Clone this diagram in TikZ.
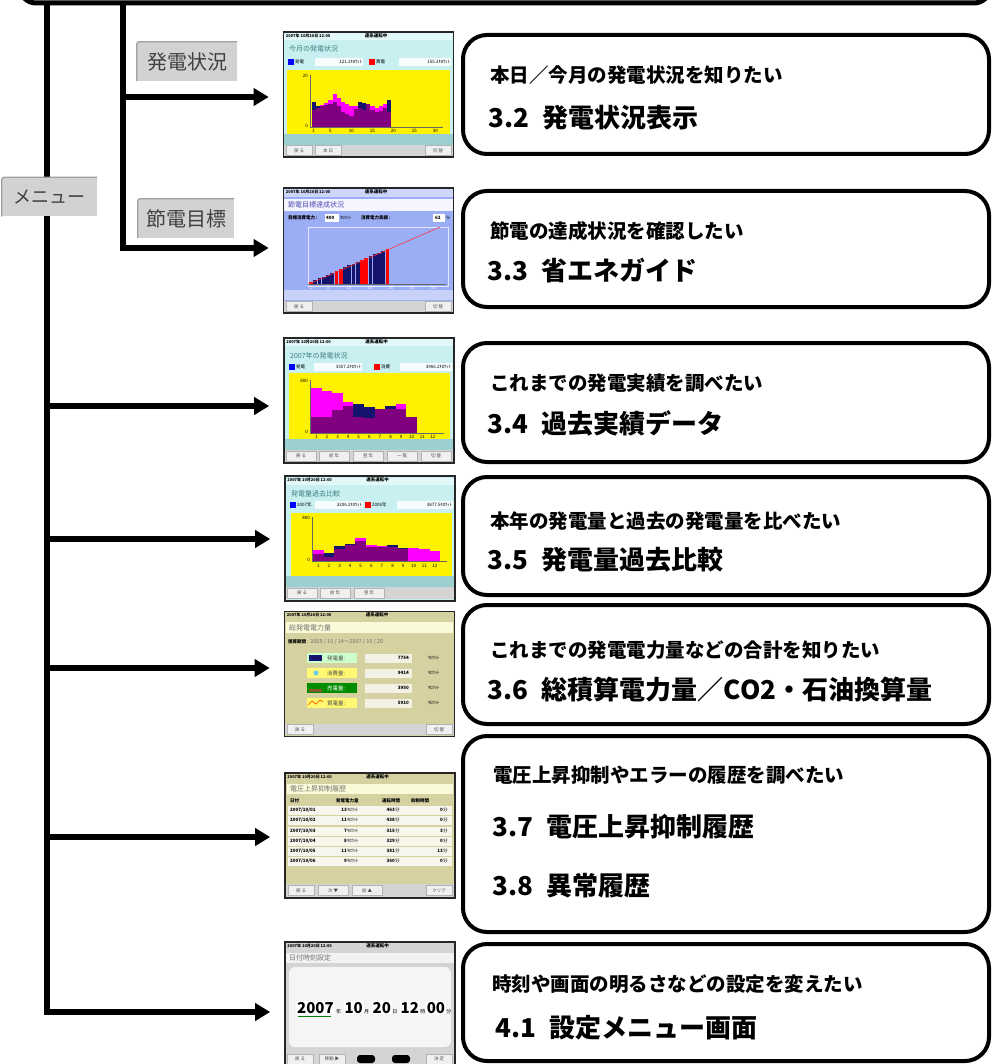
\documentclass[tikz,border=0pt]{standalone}
\usepackage{fontspec}
\setmainfont{Noto Sans CJK JP}
\usepackage{tikz}
\usetikzlibrary{shapes.geometric, arrows, arrows.meta, positioning}
\definecolor{sky}{HTML}{C8F0F0}
\definecolor{teal2}{HTML}{9CCFCF}
\definecolor{navy2}{HTML}{14146E}
\definecolor{plum}{HTML}{800080}
\definecolor{pink2}{HTML}{FF00FF}
\definecolor{peri}{HTML}{9BAEF5}
\definecolor{khaki2}{HTML}{D5D1A1}
\definecolor{cream}{HTML}{FAFAD8}
\definecolor{btngray}{HTML}{D4D4D4}
\definecolor{tabgray}{HTML}{D2D2D2}
\tikzstyle{need} = [rectangle, rounded corners=24pt, draw=black, line width=4pt, minimum width=526pt, fill=white]
\tikzstyle{want} = [anchor=west, inner sep=0pt, font=\fontsize{19.5}{20}\selectfont\bfseries]
\tikzstyle{sect} = [anchor=west, inner sep=0pt, font=\fontsize{26}{26}\selectfont\bfseries]
\tikzstyle{tab} = [rectangle, fill=tabgray, text=black!75, font=\fontsize{20}{20}\selectfont, minimum height=39pt, inner xsep=6pt]
\tikzstyle{shot} = [rectangle, draw=black!85, line width=1.6pt, minimum width=170pt, minimum height=125pt, inner sep=0pt]
\tikzstyle{lbl} = [anchor=west, inner sep=0pt, font=\fontsize{4.5}{5}\selectfont]
\tikzstyle{lblb} = [lbl, font=\fontsize{4.5}{5}\selectfont\bfseries]
\tikzstyle{ttl} = [anchor=west, inner sep=0pt, text=teal!50!gray, font=\fontsize{7}{7}\selectfont]
\tikzstyle{btn} = [rectangle, draw=gray!60, fill=gray!12, text=black!70, font=\fontsize{4.5}{5}\selectfont, minimum width=26pt, minimum height=10pt, inner sep=0pt]
\tikzstyle{clock} = [anchor=base west, inner sep=1pt, fill=white, font=\fontsize{15}{15}\selectfont\bfseries]
\tikzstyle{unit} = [anchor=base west, inner sep=0pt, font=\fontsize{5}{5}\selectfont]
\tikzstyle{arrow} = [line width=5.5pt, -{Triangle[length=15pt,width=17pt]}, shorten >=14pt]

\begin{document}
\begin{tikzpicture}[x=1pt, y=-1pt]
\useasboundingbox (0,0) rectangle (994,1064);
\clip (0,0) rectangle (994,1064);

\node (head) [need, minimum width=970pt, minimum height=100pt, rounded corners=16pt, line width=5pt] at (505,-47) {};

% screen 1
\begin{scope}[shift={(283,32)}]
\node (s1) [shot, fill=sky] at (85.5,62.5) {};
\fill[sky!50] (1,1) rectangle (170,8);
\node[ttl] at (6,17) {今月の発電状況};
\fill[blue] (5,27) rectangle (11,33); \node[lbl] at (12,30) {発電};
\fill[white!85!sky] (32,26) rectangle (80,34); \node[lbl, anchor=east] at (79,30) {121.2ｷﾛﾜｯﾄ};
\fill[red] (86,27) rectangle (92,33); \node[lbl] at (93,30) {買電};
\fill[white!85!sky] (116,26) rectangle (168,34); \node[lbl, anchor=east] at (167,30) {155.2ｷﾛﾜｯﾄ};
\fill[yellow] (4,38) rectangle (167,102);
\fill[teal2] (1,102) rectangle (170,113);
\fill[btngray] (1,113) rectangle (170,124);
\foreach \g/\c [count=\i] in {70/78,74/76,74/73,73/71,72/68,70/62,74/66,80/70,82/72,84/74,77/74,70/76,71/78,72/72,78/74,80/76,79/74,76/72,68/80} {
  \pgfmathsetmacro\xa{28.5+(\i-1)*4.2}
  \fill[pink2] (\xa,95) rectangle ({\xa+4.2},\c);
  \fill[navy2] (\xa,95) rectangle ({\xa+4.2},\g);
  \fill[plum] (\xa,95) rectangle ({\xa+4.2},{max(\g,\c)});
}
\draw[black!60, line width=0.5pt] (27,43) -- (27,95) -- (160,95);
\node[lbl, anchor=east] at (25,44) {20};
\node[lbl, anchor=east] at (25,94) {0};
\foreach \d/\x in {1/30.6,5/47.4,10/68.4,15/89.4,20/110.4,25/131.4,30/152.4}
  \node[lbl, anchor=center] at (\x,99) {\d};
\node[btn] at (16,118.5) {戻 る};
\node[btn] at (45,118.5) {本 日};
\node[btn] at (155,118.5) {切 替};
\end{scope}

% screen 2
\begin{scope}[shift={(283,188)}]
\node (s2) [shot, fill=peri] at (85.5,62.5) {};
\fill[peri!50] (1,1) rectangle (170,9);
\fill[blue!4] (1,11) rectangle (170,23);
\node[ttl, text=blue!40!gray] at (5,17) {節電目標達成状況};
\node[lblb] at (5,30) {目標消費電力 :};
\fill[white] (42,26) rectangle (56,34); \node[lblb] at (43,30) {400};
\node[lbl] at (57,30) {ｷﾛﾜｯﾄ};
\node[lblb] at (78,30) {消費電力実績 :};
\fill[white] (150,26) rectangle (162,34); \node[lblb] at (152,30) {62};
\node[lbl] at (163,30) {\%};
\draw[white!70!peri, line width=0.8pt] (25,39) rectangle (165,98);
\foreach \i in {1,...,19} {
  \pgfmathsetmacro\xa{26+(\i-1)*4.25}
  \fill[navy2] (\xa,96) rectangle ({\xa+3.9},{96-\i*1.85});
}
\foreach \i in {1,7,8,13,14,19} {
  \pgfmathsetmacro\xa{26+(\i-1)*4.25}
  \fill[red] (\xa,96) rectangle ({\xa+3.9},{96-\i*1.85});
}
\draw[black!60, line width=0.5pt] (25,96) -- (163,96);
\draw[red!80, line width=0.6pt] (26,96) -- (157,39);
\fill[peri!55!white] (1,102) rectangle (170,112);
\foreach \d/\x in {1/28,5/45,10/66,15/87,20/108,25/129,30/150}
  \node[lbl, anchor=center, text=white] at (\x,100) {\d};
\fill[btngray] (1,113) rectangle (170,124);
\node[btn] at (16,118.5) {戻 る};
\node[btn] at (155,118.5) {切 替};
\end{scope}

% screen 3
\begin{scope}[shift={(284,338)}]
\node (s3) [shot, fill=sky] at (85,62.5) {};
\fill[sky!50] (1,1) rectangle (169,8);
\node[ttl] at (6,18) {2007年の発電状況};
\fill[blue] (5,26) rectangle (11,32); \node[lbl] at (12,29) {発電};
\fill[white!85!sky] (30,25) rectangle (78,33); \node[lbl, anchor=east] at (77,29) {3357.2ｷﾛﾜｯﾄ};
\fill[red] (90,26) rectangle (96,32); \node[lbl] at (97,29) {消費};
\fill[white!85!sky] (116,25) rectangle (168,33); \node[lbl, anchor=east] at (167,29) {3966.2ｷﾛﾜｯﾄ};
\fill[yellow] (5,35) rectangle (166,101);
\fill[teal2] (1,101) rectangle (169,112);
\fill[btngray] (1,112) rectangle (169,124);
\foreach \g/\c [count=\i] in {79/50,79/53,72/55,68/64,66/79,69/80,71/71,68/71,71/66,79/79} {
  \pgfmathsetmacro\xa{27+(\i-1)*10.6}
  \fill[pink2] (\xa,95) rectangle ({\xa+10.6},\c);
  \fill[navy2] (\xa,95) rectangle ({\xa+10.6},\g);
  \fill[plum] (\xa,95) rectangle ({\xa+10.6},{max(\g,\c)});
}
\draw[black!60, line width=0.5pt] (26,42) -- (26,95) -- (160,95);
\node[lbl, anchor=east] at (24,43) {800};
\node[lbl, anchor=east] at (24,94) {0};
\foreach \m in {1,...,12}
  \node[lbl, anchor=center] at ({27+(\m-0.5)*10.6},98.5) {\m};
\node[btn, minimum width=30pt] at (17,118) {戻 る};
\node[btn, minimum width=30pt] at (50,118) {前 年};
\node[btn, minimum width=30pt] at (84,118) {翌 年};
\node[btn, minimum width=30pt] at (118,118) {一 覧};
\node[btn, minimum width=30pt] at (152,118) {切 替};
\end{scope}

% screen 4
\begin{scope}[shift={(285,477)}]
\node (s4) [shot, fill=sky] at (85,61.5) {};
\fill[sky!50] (1,1) rectangle (169,8);
\node[ttl] at (6,17) {発電量過去比較};
\fill[blue] (5,25) rectangle (11,31); \node[lbl] at (12,28) {2007年};
\fill[white!85!sky] (30,24) rectangle (78,32); \node[lbl, anchor=east] at (77,28) {3206.2ｷﾛﾜｯﾄ};
\fill[red] (80,25) rectangle (86,31); \node[lbl] at (87,28) {2006年};
\fill[white!85!sky] (112,24) rectangle (168,32); \node[lbl, anchor=east] at (167,28) {3877.5ｷﾛﾜｯﾄ};
\fill[yellow] (6,36) rectangle (167,99);
\fill[teal2] (1,99) rectangle (169,110);
\fill[btngray] (1,110) rectangle (169,122);
\foreach \g/\c [count=\i] in {77/73,76/80,69/72,67/68,64/61,70/68,70/69,68/70,71/72,84/71,84/72,84/74} {
  \pgfmathsetmacro\xa{28+(\i-1)*10.6}
  \fill[pink2] (\xa,84) rectangle ({\xa+10.6},\c);
  \fill[navy2] (\xa,84) rectangle ({\xa+10.6},\g);
  \fill[plum] (\xa,84) rectangle ({\xa+10.6},{max(\g,\c)});
}
\draw[black!60, line width=0.5pt] (27,40) -- (27,84) -- (162,84);
\node[lbl, anchor=east] at (25,41) {800};
\node[lbl, anchor=east] at (25,83) {0};
\foreach \m in {1,...,12}
  \node[lbl, anchor=center] at ({28+(\m-0.5)*10.6},89) {\m};
\node[btn, minimum width=30pt] at (17,116) {戻 る};
\node[btn, minimum width=30pt] at (50,116) {前 年};
\node[btn, minimum width=30pt] at (84,116) {翌 年};
\end{scope}

% screen 5
\begin{scope}[shift={(284,612)}]
\node (s5) [shot, fill=khaki2] at (85.5,62) {};
\fill[cream] (2,10) rectangle (169,21);
\node[ttl, text=black!55] at (5,15.5) {総発電電力量};
\node[lblb] at (4,30) {積算期間};
\node[lbl, text=black!55, font=\fontsize{5.5}{6}\selectfont] at (23,30) {: 2005 / 10 / 14～2007 / 10 / 20};
\foreach \y/\lab/\val/\bg/\tx in {46/発電量/7754/green!20/black!70, 61/消費量/9414/yellow!55/black!70, 76/売電量/3950/green!55!black/white!80, 91/買電量/5910/yellow!55/black!70} {
  \fill[\bg] (23,{\y-5}) rectangle (73,{\y+5});
  \node[lbl, text=\tx, font=\fontsize{5.5}{6}\selectfont] at (43,\y) {\lab :};
  \fill[white!70!khaki2] (81,{\y-4.5}) rectangle (128,{\y+4.5});
  \node[lblb, anchor=east] at (125,\y) {\val};
  \node[lbl] at (144,\y) {ｷﾛﾜｯﾄ};
}
\fill[navy2] (25,43) rectangle (38,49);
\fill[cyan!60] (32,61) circle (2.5);
\fill[brown!70!black] (25,77) rectangle (38,80);
\draw[orange, line width=1pt] (24,93) -- (28,89) -- (32,92) -- (36,88) -- (39,90);
\fill[btngray] (1,112) rectangle (170,123);
\node[btn] at (16,117.5) {戻 る};
\node[btn] at (155,117.5) {切 替};
\end{scope}

% screen 6
\begin{scope}[shift={(285,773)}]
\node (s6) [shot, fill=khaki2] at (85,62.5) {};
\fill[cream] (2,11) rectangle (168,21);
\node[ttl, text=black!55] at (5,16) {電圧上昇抑制履歴};
\node[lblb] at (5,28) {日付};
\node[lblb] at (51,28) {発電電力量};
\node[lblb] at (97,28) {運転時間};
\node[lblb] at (126,28) {抑制時間};
\foreach \y/\d/\k/\m/\s in {37/01/13/463/0, 47/02/11/438/0, 58/03/7/315/3, 68/04/8/329/0, 78/05/11/381/13, 88/06/9/360/0} {
  \fill[white!80!khaki2] (3,{\y-4.5}) rectangle (167,{\y+4.5});
  \node[lblb] at (5,\y) {2007/10/\d};
  \node[lblb, anchor=east] at (62,\y) {\k};
  \node[lbl] at (62,\y) {ｷﾛﾜｯﾄ};
  \node[lblb, anchor=east] at (110,\y) {\m};
  \node[lbl] at (110,\y) {分};
  \node[lblb, anchor=east] at (158,\y) {\s};
  \node[lbl] at (158,\y) {分};
}
\fill[btngray] (1,111) rectangle (169,124);
\node[btn] at (16,117.5) {戻 る};
\node[btn, minimum width=30pt] at (48,117.5) {次 ▼};
\node[btn, minimum width=30pt] at (82,117.5) {前 ▲};
\node[btn] at (154,117.5) {クリア};
\end{scope}

% screen 7
\begin{scope}[shift={(284,942)}]
\node (s7) [shot, fill=btngray] at (86,62.5) {};
\fill[gray!10] (2,11) rectangle (170,21);
\node[ttl, text=black!55] at (5,16) {日付時刻設定};
\fill[gray!8, rounded corners=6pt] (5,25) rectangle (167,105);
\node (yy) [clock] at (12,71) {2007};
\node (yu) [unit] at ([xshift=1pt]yy.base east) {年};
\node (mm) [clock] at ([xshift=2pt]yu.base east) {10};
\node (mu) [unit] at (mm.base east) {月};
\node (dd) [clock] at ([xshift=2pt]mu.base east) {20};
\node (du) [unit] at (dd.base east) {日};
\node (hh) [clock] at ([xshift=2pt]du.base east) {12};
\node (hu) [unit] at (hh.base east) {時};
\node (nn) [clock] at (hu.base east) {00};
\node (nu) [unit] at (nn.base east) {分};
\draw[green!50!black, line width=1.6pt] (14,74.5) -- (47,74.5);
\node[btn] at (16,117) {戻 る};
\node[btn] at (48,117) {移動 ▶};
\fill[black, rounded corners=3pt] (73,113) rectangle (91,121);
\fill[black, rounded corners=3pt] (108,113) rectangle (126,121);
\node[btn] at (155,117) {決 定};
\end{scope}

\foreach \s in {s1,s2,s3,s4,s5,s6,s7} {
  \node[lblb, font=\fontsize{4}{4}\selectfont\bfseries] at ([xshift=3pt,yshift=-4.5pt]\s.north west) {2007年\ 10月20日\ 12:00};
  \node[lblb, font=\fontsize{4.5}{5}\selectfont\bfseries] at ([xshift=82pt,yshift=-4.5pt]\s.north west) {連系運転中};
}

% goal boxes
\node (b1) [need, minimum height=119pt] at (726,94.5) {};
\node (b2) [need, minimum height=116pt] at (726,249) {};
\node (b3) [need, minimum height=119pt] at (726,402.5) {};
\node (b4) [need, minimum height=118pt] at (726,536) {};
\node (b5) [need, minimum height=119pt] at (726,664.5) {};
\node (b6) [need, minimum height=196pt] at (726,834) {};
\node (b7) [need, minimum height=117pt] at (726,1002.5) {};
\node[want] at (490,75) {本日／今月の発電状況を知りたい};
\node[sect] at (488,118) {3.2\hspace{14pt}発電状況表示};
\node[want] at (490,231) {節電の達成状況を確認したい};
\node[sect] at (487,271) {3.3\hspace{14pt}省エネガイド};
\node[want] at (490,383) {これまでの発電実績を調べたい};
\node[sect] at (487,423) {3.4\hspace{14pt}過去実績データ};
\node[want] at (490,521) {本年の発電量と過去の発電量を比べたい};
\node[sect] at (487,560) {3.5\hspace{14pt}発電量過去比較};
\node[want] at (490,650) {これまでの発電電力量などの合計を知りたい};
\node[sect] at (487,690) {3.6\hspace{14pt}総積算電力量／CO2・石油換算量};
\node[want] at (493,775) {電圧上昇抑制やエラーの履歴を調べたい};
\node[sect] at (492,827) {3.7\hspace{14pt}電圧上昇抑制履歴};
\node[sect] at (492,886) {3.8\hspace{14pt}異常履歴};
\node[want] at (492,984) {時刻や画面の明るさなどの設定を変えたい};
\node[sect] at (495,1028) {4.1\hspace{14pt}設定メニュー画面};

% tree
\coordinate (r0) at (47,3);
\coordinate (r1) at (123,3);
\coordinate (t1) at (123,97);
\coordinate (t2) at (123,248);
\coordinate (t3) at (47,406);
\coordinate (t4) at (47,539);
\coordinate (t5) at (47,668);
\coordinate (t6) at (47,837);
\coordinate (t7) at (47,1012);
\draw[arrow] (r0) |- (t7 -| s7.west);
\draw[arrow] (r1) |- (t2 -| s2.west);
\draw[arrow] (t1) -- (t1 -| s1.west);
\draw[arrow] (t3) -- (t3 -| s3.west);
\draw[arrow] (t4) -- (t4 -| s4.west);
\draw[arrow] (t5) -- (t5 -| s5.west);
\draw[arrow] (t6) -- (t6 -| s6.west);

\node (tab1) [tab, minimum width=100pt] at (187,61.5) {発電状況};
\node (tab2) [tab, minimum width=96pt] at (186,218.5) {節電目標};
\node (menu) [tab, minimum width=95pt, font=\fontsize{18}{18}\selectfont] at (49.5,197) {メニュー};
\foreach \t in {tab1,tab2,menu}
  \draw[gray!75, line width=1.2pt, rounded corners=2pt] (\t.south west) |- (\t.north east);
\end{tikzpicture}
\end{document}
